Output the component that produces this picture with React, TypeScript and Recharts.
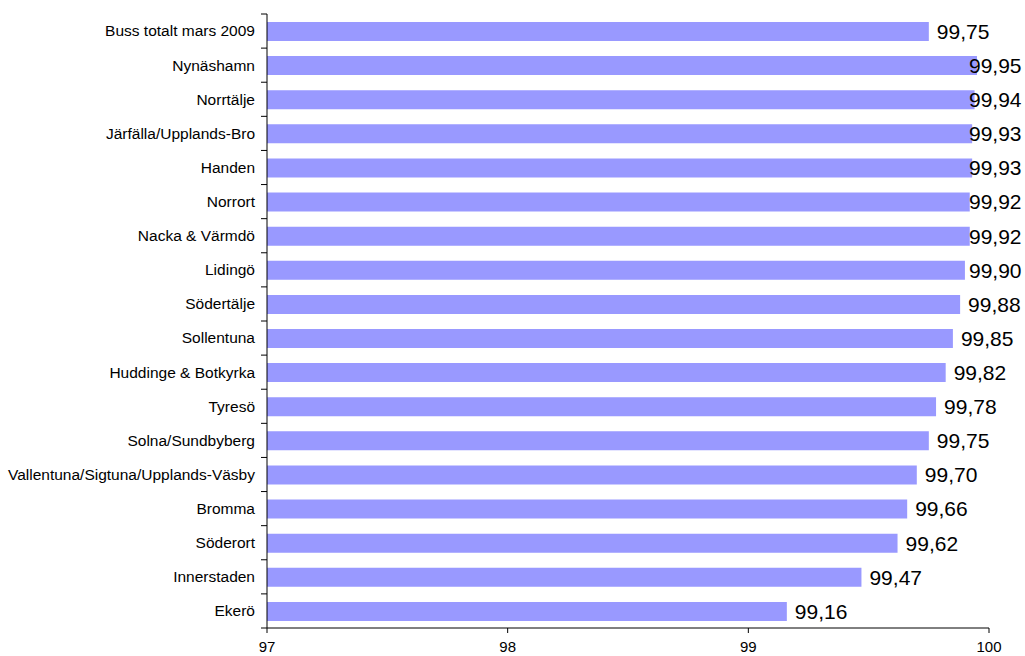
import { Bar, BarChart, LabelList, XAxis, YAxis } from "recharts";

const regions = [
  "Buss totalt mars 2009",
  "Nynäshamn",
  "Norrtälje",
  "Järfälla/Upplands-Bro",
  "Handen",
  "Norrort",
  "Nacka & Värmdö",
  "Lidingö",
  "Södertälje",
  "Sollentuna",
  "Huddinge & Botkyrka",
  "Tyresö",
  "Solna/Sundbyberg",
  "Vallentuna/Sigtuna/Upplands-Väsby",
  "Bromma",
  "Söderort",
  "Innerstaden",
  "Ekerö"
];

const shares = [
  99.75, 99.95, 99.94, 99.93, 99.93, 99.92, 99.92, 99.9, 99.88, 99.85, 99.82,
  99.78, 99.75, 99.7, 99.66, 99.62, 99.47, 99.16
];

const xTicks = [97, 98, 99, 100];

const data = regions.map((name, i) => ({ name, value: shares[i] }));

const FONT = "Arial, 'Liberation Sans', sans-serif";

const CategoryTick = (props: any) => {
  const { x, y, payload, index } = props;
  const half = payload?.offset ?? 17;
  const axisX = x + 12;
  return (
    <g>
      <line x1={axisX - 6} x2={axisX} y1={y - half} y2={y - half} stroke="#000" />
      {index === regions.length - 1 && (
        <line x1={axisX - 6} x2={axisX} y1={y + half} y2={y + half} stroke="#000" />
      )}
      <text
        x={x}
        y={y}
        dy="0.35em"
        textAnchor="end"
        fill="#000"
        fontSize={15.5}
        fontFamily={FONT}
      >
        {payload.value}
      </text>
    </g>
  );
};

const ValueLabel = (props: any) => {
  const { x, y, width, height, value } = props;
  const end = x + width;
  const tx = Math.min(end + 8, 969);
  return (
    <text
      x={tx}
      y={y + height / 2}
      dy="0.35em"
      fill="#000"
      fontSize={21}
      fontFamily={FONT}
    >
      {Number(value).toFixed(2).replace(".", ",")}
    </text>
  );
};

export default function App() {
  return (
    <div style={{ position: "absolute", left: 0, top: 0, background: "#fff" }}>
      <BarChart
        width={1025}
        height={656}
        data={data}
        layout="vertical"
        margin={{ top: 14, right: 36, bottom: 8, left: 0 }}
        barSize={19}
      >
        <XAxis
          type="number"
          domain={[97, 100]}
          ticks={xTicks}
          height={20}
          tickSize={5}
          tickMargin={8}
          stroke="#000"
          tick={{ fill: "#000", fontSize: 15, fontFamily: FONT }}
        />
        <YAxis
          type="category"
          dataKey="name"
          width={267}
          tickLine={false}
          tickSize={6}
          tickMargin={6}
          stroke="#000"
          interval={0}
          tick={<CategoryTick />}
        />
        <Bar dataKey="value" fill="#9999ff" isAnimationActive={false}>
          <LabelList dataKey="value" content={<ValueLabel />} />
        </Bar>
      </BarChart>
    </div>
  );
}
